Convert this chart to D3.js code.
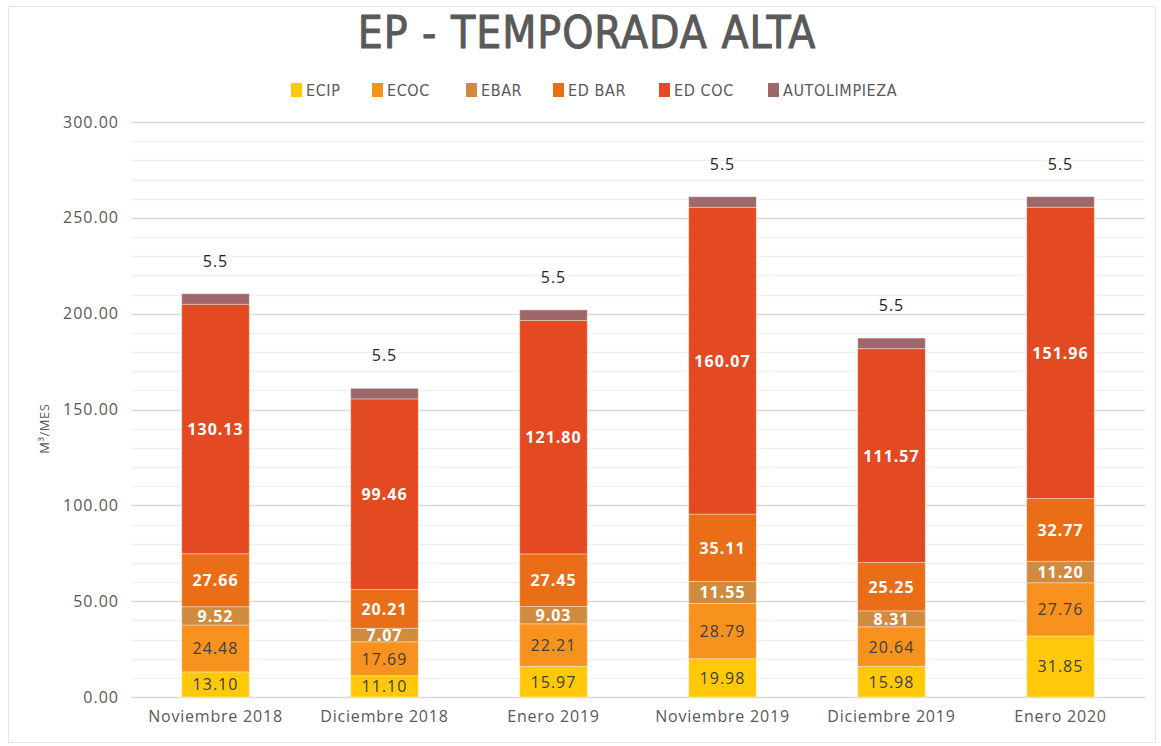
<!DOCTYPE html>
<html>
<head>
<meta charset="utf-8">
<script src="https://cdn.jsdelivr.net/npm/d3@7"></script>
<style>
  body { margin: 0; background: #fff; }
  text { font-family: "Open Sans", "DejaVu Sans", sans-serif; }
</style>
</head>
<body>
<div id="chart"></div>
<script>
var categories = ["Noviembre 2018", "Diciembre 2018", "Enero 2019", "Noviembre 2019", "Diciembre 2019", "Enero 2020"];
var seriesNames = ["ECIP", "ECOC", "EBAR", "ED BAR", "ED COC", "AUTOLIMPIEZA"];
var ecip = [13.10, 11.10, 15.97, 19.98, 15.98, 31.85];
var ecoc = [24.48, 17.69, 22.21, 28.79, 20.64, 27.76];
var ebar = [9.52, 7.07, 9.03, 11.55, 8.31, 11.20];
var edBar = [27.66, 20.21, 27.45, 35.11, 25.25, 32.77];
var edCoc = [130.13, 99.46, 121.80, 160.07, 111.57, 151.96];
var autolimpieza = [5.5, 5.5, 5.5, 5.5, 5.5, 5.5];
var yTicks = [0, 50, 100, 150, 200, 250, 300];

var colors = ["#FFC90A", "#F7921E", "#D08B3F", "#EA6E17", "#E34A22", "#9E6869"];
var labelColors = ["#404040", "#404040", "#fff", "#fff", "#fff", "#262626"];

var width = 1161, height = 746;
var margin = {top: 122, right: 16, bottom: 49, left: 131};

var svg = d3.select('#chart').append('svg').attr('width', width).attr('height', height);

// outer frame
svg.append('rect').attr('x', 8.5).attr('y', 6.5).attr('width', width - 14).attr('height', height - 10)
    .attr('fill', '#fff').attr('stroke', '#e6e6e6');

var x = d3.scaleBand().domain(categories).range([margin.left, width - margin.right]).paddingInner(0.6).paddingOuter(0.3);
var y = d3.scaleLinear().domain([0, 300]).range([height - margin.bottom, margin.top]);

// gridlines (major every 50, minor every 10)
svg.append('g').selectAll('line').data(d3.range(0, 301, 10)).enter().append('line')
    .attr('x1', margin.left).attr('x2', width - margin.right)
    .attr('y1', function(d) { return Math.round(y(d)) + 0.5; })
    .attr('y2', function(d) { return Math.round(y(d)) + 0.5; })
    .attr('stroke', function(d) { return d % 50 === 0 ? '#d9d9d9' : '#f0f0f0'; })
    .attr('stroke-width', 1.5);

// y axis labels
var yAxis = d3.axisLeft(y).tickValues(yTicks).tickSize(0).tickPadding(11).tickFormat(d3.format('.2f'));
svg.append('g').attr('transform', 'translate(' + (margin.left - 1) + ',0)').call(yAxis)
    .call(function(g) { g.select('.domain').remove(); })
    .selectAll('text').attr('fill', '#595959').style('font-size', '16px').style('letter-spacing', '1px')
    .style('font-family', '"Open Sans", sans-serif');

// x axis labels
var xAxis = d3.axisBottom(x).tickSize(0).tickPadding(14);
svg.append('g').attr('transform', 'translate(0,' + (height - margin.bottom) + ')').call(xAxis)
    .call(function(g) { g.select('.domain').remove(); })
    .selectAll('text').attr('fill', '#595959').style('font-size', '16px').style('letter-spacing', '0.8px')
    .style('font-family', '"Open Sans", sans-serif');

// stacked data
var rows = categories.map(function(c, i) {
    return {cat: c, "ECIP": ecip[i], "ECOC": ecoc[i], "EBAR": ebar[i], "ED BAR": edBar[i], "ED COC": edCoc[i], "AUTOLIMPIEZA": autolimpieza[i]};
});
var stacked = d3.stack().keys(seriesNames)(rows);

var layers = svg.append('g').selectAll('g').data(stacked).enter().append('g')
    .attr('fill', function(d, i) { return colors[i]; });

layers.selectAll('rect').data(function(d) { return d; }).enter().append('rect')
    .attr('x', function(d) { return x(d.data.cat); })
    .attr('width', x.bandwidth())
    .attr('y', function(d) { return y(d[1]); })
    .attr('height', function(d) { return y(d[0]) - y(d[1]); })
    .attr('stroke', '#fff').attr('stroke-opacity', 0.35).attr('stroke-width', 1);

// data labels
layers.each(function(layer, li) {
    d3.select(this).selectAll('text').data(layer).enter().append('text')
        .attr('x', function(d) { return x(d.data.cat) + x.bandwidth() / 2; })
        .attr('y', function(d) {
            if (li === 5) return y(d[1]) - 27;
            return (y(d[0]) + y(d[1])) / 2 + 6;
        })
        .attr('text-anchor', 'middle')
        .attr('fill', labelColors[li])
        .style('font-size', '16px')
        .style('font-weight', (li >= 2 && li <= 4) ? 'bold' : 'normal')
        .style('letter-spacing', '1px')
        .text(function(d) { var v = d[1] - d[0]; return li === 5 ? d3.format('.1f')(v) : d3.format('.2f')(v); });
});

// y axis title
svg.append('text').attr('transform', 'translate(49,' + y(140) + ') rotate(-90)')
    .attr('text-anchor', 'middle').attr('fill', '#595959').style('font-size', '13px')
    .style('letter-spacing', '0.5px')
    .text('M³/MES');

// title
svg.append('text').attr('x', 587).attr('y', 48).attr('text-anchor', 'middle')
    .attr('fill', '#595959').attr('stroke', '#595959').attr('stroke-width', 0.9)
    .style('font-size', '44px')
    .style('font-family', '"DejaVu Sans Condensed", "DejaVu Sans", sans-serif')
    .style('letter-spacing', '1px')
    .text('EP - TEMPORADA ALTA');

// legend
var legendX = [291, 372, 466, 553, 659, 768];
var legend = svg.append('g').selectAll('g').data(seriesNames).enter().append('g')
    .attr('transform', function(d, i) { return 'translate(' + legendX[i] + ',83)'; });
legend.append('rect').attr('width', 11).attr('height', 14).attr('fill', function(d, i) { return colors[i]; });
legend.append('text').attr('x', 15).attr('y', 13).attr('fill', '#595959').style('font-size', '16px')
    .style('letter-spacing', '0.6px')
    .style('font-family', '"DejaVu Sans Condensed", "Open Sans", sans-serif')
    .text(function(d) { return d; });
</script>
</body>
</html>
